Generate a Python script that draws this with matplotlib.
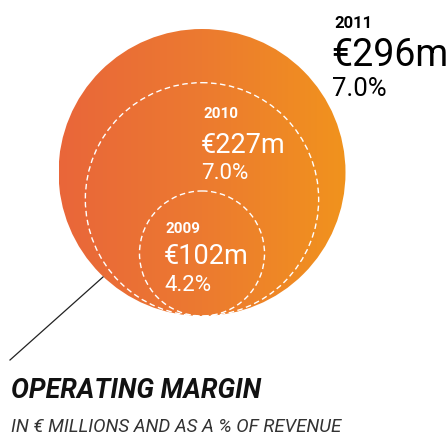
#!/usr/bin/env python3

import numpy as np
import matplotlib
matplotlib.use("Agg")
import matplotlib.pyplot as plt
from matplotlib.patches import Circle
from matplotlib.colors import LinearSegmentedColormap

years = ["2009", "2010", "2011"]
margin_eur_m = [102, 227, 296]
margin_pct = [4.2, 7.0, 7.0]

title = "OPERATING MARGIN"
subtitle = "IN \u20ac MILLIONS AND AS A % OF REVENUE"


def main() -> None:
    plt.rcParams["font.family"] = ["Roboto", "DejaVu Sans"]
    fig = plt.figure(figsize=(4.48, 4.36), dpi=100)
    ax = fig.add_axes([0, 0, 1, 1])
    ax.set_xlim(0, 448)
    ax.set_ylim(436, 0)
    ax.set_aspect("equal")
    ax.axis("off")

    # radius scale (bubbles sit on a common baseline)
    r_max = 143.5
    cx, base = 202, 316
    radii = [r_max * (v / max(margin_eur_m)) ** 0.78 for v in margin_eur_m]

    # big gradient circle
    cmap = LinearSegmentedColormap.from_list("og", ["#e9663a", "#ec7a30", "#f1931d"])
    r_big = radii[-1]
    grad = np.tile(np.linspace(0, 1, 256), (2, 1))
    im = ax.imshow(grad, cmap=cmap, aspect="auto",
                   extent=(cx - r_big, cx + r_big, base, base - 2 * r_big), zorder=1)
    clip = Circle((cx, base - r_big), r_big, transform=ax.transData, fc="none", ec="none")
    ax.add_patch(clip)
    im.set_clip_path(clip)

    # dashed circles for earlier years
    for r in radii[:-1]:
        ax.add_patch(Circle((cx, base - r), r, fc="none", ec="white", lw=1.0,
                            ls=(0, (4, 2.5)), zorder=3))

    # pointer line
    ax.plot([103, 10], [277, 360], color="#222222", lw=0.9, zorder=2)

    # labels
    ax.text(334, 28, years[2], fontsize=12, fontweight="bold", color="black")
    ax.text(331, 66, f"\u20ac{margin_eur_m[2]}m", fontsize=27, color="black")
    ax.text(332, 96, f"{margin_pct[2]:.1f}%", fontsize=18.5, color="black")

    ax.text(203, 118, years[1], fontsize=11, fontweight="bold", color="white", zorder=4)
    ax.text(201, 153, f"\u20ac{margin_eur_m[1]}m", fontsize=19.5, color="white", zorder=4)
    ax.text(201, 179, f"{margin_pct[1]:.1f}%", fontsize=16, color="white", zorder=4)

    ax.text(166, 233, years[0], fontsize=11, fontweight="bold", color="white", zorder=4)
    ax.text(164, 264, f"\u20ac{margin_eur_m[0]}m", fontsize=19.5, color="white", zorder=4)
    ax.text(164, 291, f"{margin_pct[0]:.1f}%", fontsize=16, color="white", zorder=4)

    ax.text(11, 398, title, fontsize=19.3, fontweight="bold", fontstyle="italic", color="#111111")
    ax.text(11, 432, subtitle, fontsize=13.4, fontstyle="italic", color="#333333")

    fig.savefig("out.png", dpi=100)


if __name__ == "__main__":
    main()
